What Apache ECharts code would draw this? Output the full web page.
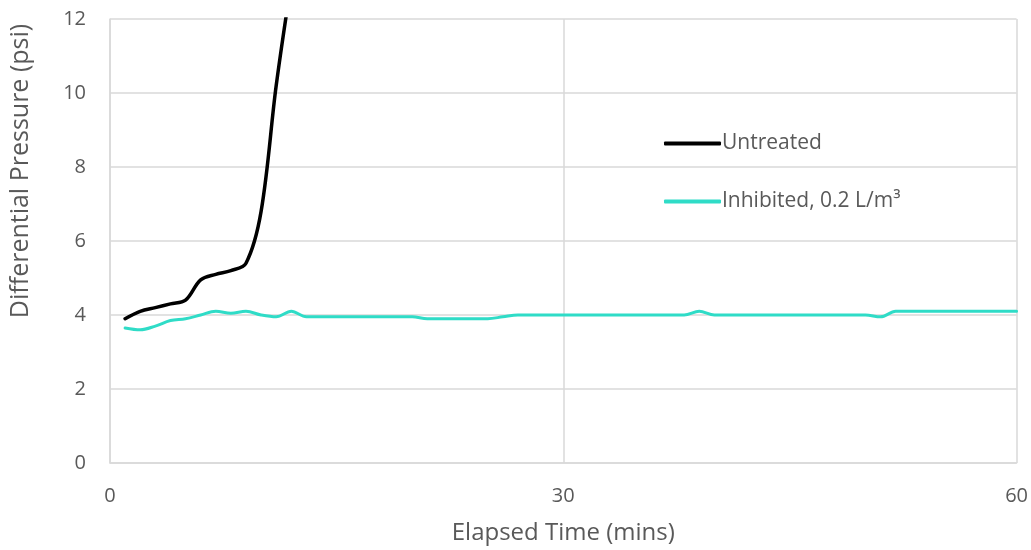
<!DOCTYPE html>
<html>
<head>
<meta charset="utf-8">
<script src="https://cdn.jsdelivr.net/npm/echarts@6/dist/echarts.min.js"></script>
<style>html,body{margin:0;padding:0;background:#fff}#c{width:1031px;height:550px}</style>
</head>
<body>
<div id="c"></div>
<script>
var untreatedTime = [1, 2, 3, 4, 5, 6, 7, 8, 9, 10, 11, 12];
var untreatedValues = [3.9, 4.1, 4.2, 4.3, 4.4, 4.95, 5.1, 5.2, 5.4, 6.8, 10.2, 13.0];
var inhibitedTime = [1,2,3,4,5,6,7,8,9,10,11,12,13,14,15,16,17,18,19,20,21,22,23,24,25,26,27,28,29,30,31,32,33,34,35,36,37,38,39,40,41,42,43,44,45,46,47,48,49,50,51,52,53,54,55,56,57,58,59,60];
var inhibitedValues = [3.65,3.6,3.7,3.85,3.9,4.0,4.1,4.05,4.1,4.0,3.95,4.1,3.95,3.95,3.95,3.95,3.95,3.95,3.95,3.95,3.9,3.9,3.9,3.9,3.9,3.95,4.0,4.0,4.0,4.0,4.0,4.0,4.0,4.0,4.0,4.0,4.0,4.0,4.1,4.0,4.0,4.0,4.0,4.0,4.0,4.0,4.0,4.0,4.0,4.0,3.95,4.1,4.1,4.1,4.1,4.1,4.1,4.1,4.1,4.1];
var seriesNames = ['Untreated', 'Inhibited, 0.2 L/m³'];
var xTicks = [0, 30, 60];
var yTicks = [0, 2, 4, 6, 8, 10, 12];

function pairs(t, v) { return t.map(function (x, i) { return [x, v[i]]; }); }

var font = '"Open Sans", Lato, sans-serif';
var chart = echarts.init(document.getElementById('c'), null, {renderer: 'canvas'});
chart.setOption({
  animation: false,
  textStyle: {fontFamily: font},
  grid: {left: 110, right: 14, top: 19, bottom: 87, containLabel: false},
  legend: {
    orient: 'vertical', left: 659, top: 128, itemGap: 37,
    itemWidth: 57, itemHeight: 4, icon: 'roundRect',
    textStyle: {fontFamily: font, fontSize: 21, color: '#595959', padding: [0, 0, 0, -4]},
    data: seriesNames
  },
  xAxis: {
    type: 'value', min: xTicks[0], max: xTicks[xTicks.length - 1], interval: 30,
    name: 'Elapsed Time (mins)', nameLocation: 'middle', nameGap: 58,
    nameTextStyle: {fontFamily: font, fontSize: 24, color: '#595959'},
    axisLine: {show: true, lineStyle: {color: '#d9d9d9', width: 1.5}},
    axisTick: {show: false},
    axisLabel: {fontFamily: font, fontSize: 20, color: '#595959', margin: 23},
    splitLine: {show: true, lineStyle: {color: '#d9d9d9', width: 1.5}}
  },
  yAxis: {
    type: 'value', min: yTicks[0], max: yTicks[yTicks.length - 1], interval: 2,
    name: 'Differential Pressure (psi)', nameLocation: 'middle', nameGap: 77,
    nameTextStyle: {fontFamily: font, fontSize: 25, color: '#595959', padding: [0, 0, 0, 140]},
    axisLine: {show: true, lineStyle: {color: '#d9d9d9', width: 1.5}},
    axisTick: {show: false},
    axisLabel: {fontFamily: font, fontSize: 20, color: '#595959', margin: 24},
    splitLine: {show: true, lineStyle: {color: '#d9d9d9', width: 1.5}}
  },
  series: [
    {
      name: seriesNames[0], type: 'line', smooth: 0.35, symbol: 'none', clip: true,
      data: pairs(untreatedTime, untreatedValues),
      itemStyle: {color: '#000000'},
      lineStyle: {color: '#000000', width: 3.5, cap: 'round'},
      z: 3
    },
    {
      name: seriesNames[1], type: 'line', smooth: 0.35, symbol: 'none', clip: true,
      data: pairs(inhibitedTime, inhibitedValues),
      itemStyle: {color: '#2fdcc7'},
      lineStyle: {color: '#2fdcc7', width: 3, cap: 'round'},
      z: 2
    }
  ]
});
</script>
</body>
</html>
